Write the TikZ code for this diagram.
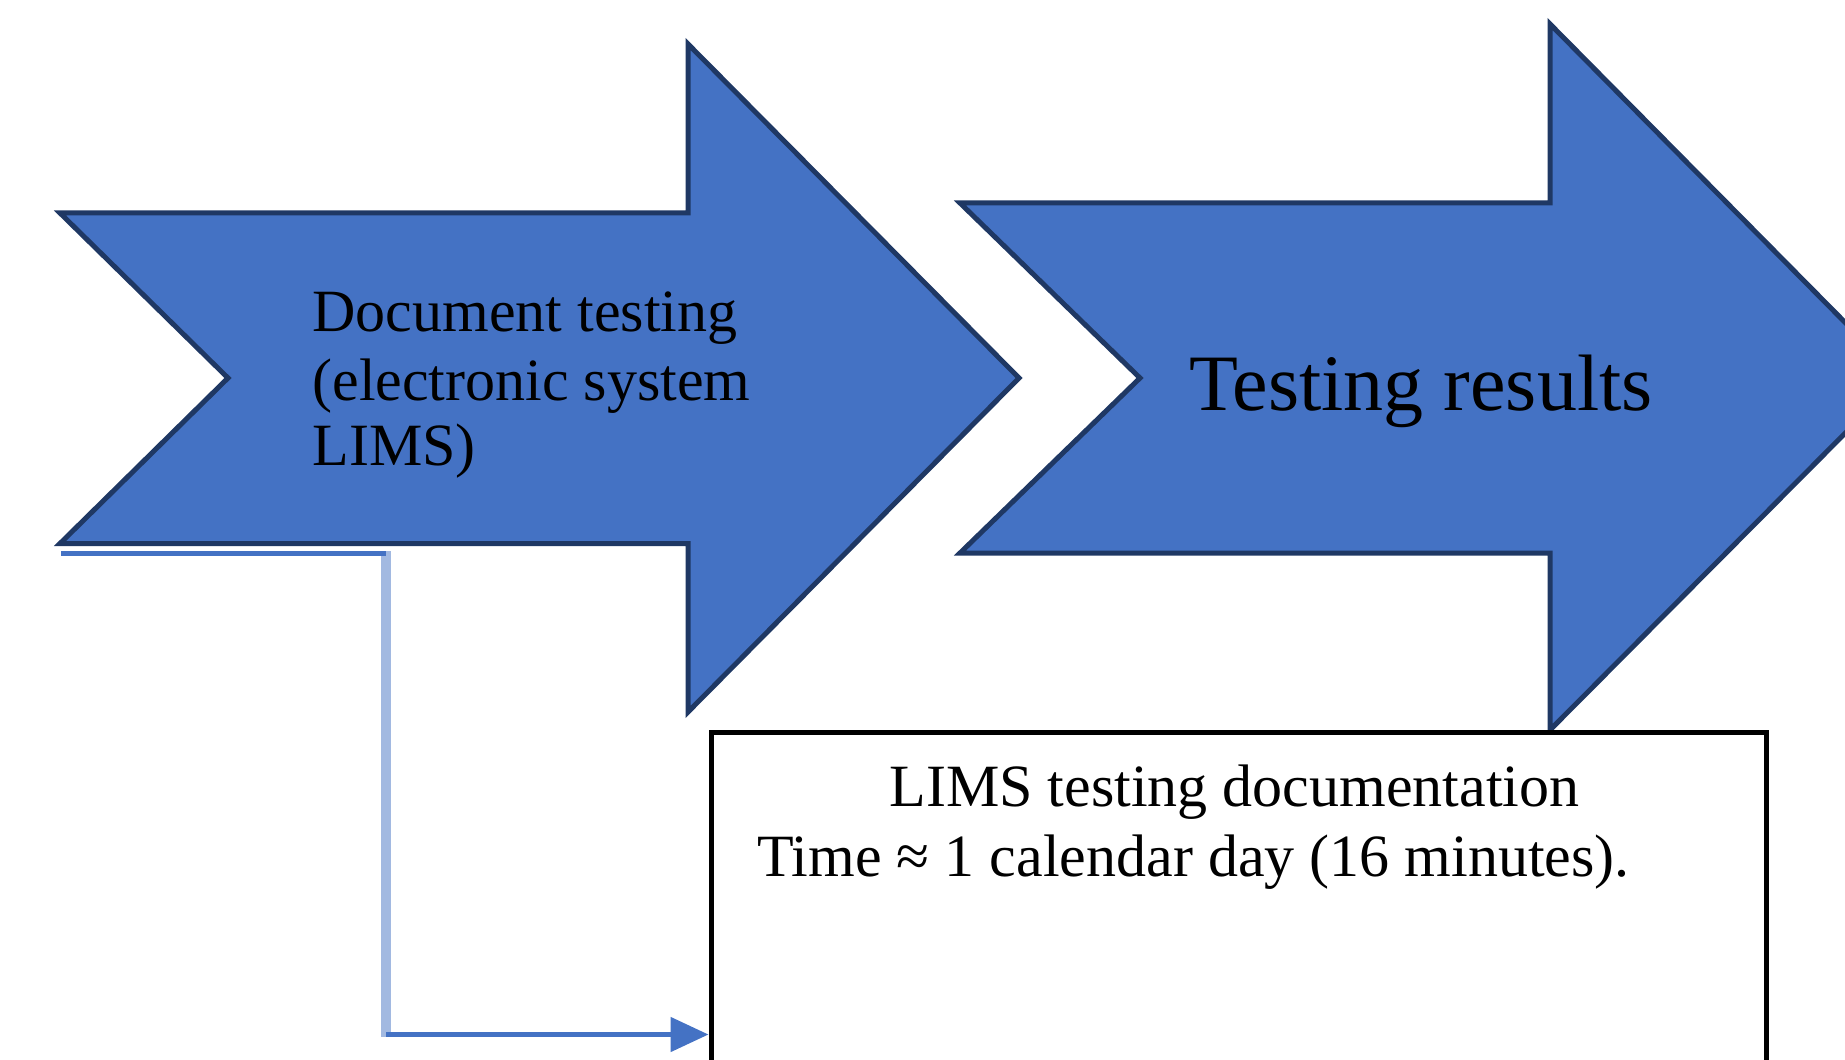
\documentclass[tikz,border=0pt]{standalone}
\usepackage{fontspec}
\setmainfont{Liberation Serif}
\usetikzlibrary{arrows.meta}
\definecolor{fillblue}{HTML}{4472C4}
\definecolor{edgeblue}{HTML}{1F3864}
\definecolor{lightblue}{HTML}{A2B9E1}
\begin{document}
\begin{tikzpicture}[x=0.5pt,y=-0.5pt,
  chevron/.style={fill=fillblue, draw=edgeblue, line width=2.5pt, line join=miter},
  lbl/.style={inner sep=0pt, text=black, font=\fontsize{30}{34}\selectfont},
  biglbl/.style={inner sep=0pt, text=black, font=\fontsize{40}{44}\selectfont},
  docbox/.style={draw=black, line width=2.5pt, fill=white, inner sep=0pt,
    minimum width=527.75pt, minimum height=200pt, anchor=north west},
  linkdark/.style={draw=fillblue, line width=2.5pt},
  linklight/.style={draw=lightblue, line width=5pt}]
\useasboundingbox (0,0) rectangle (1845,1059);
\clip (0,0) rectangle (1845,1059);

% first chevron arrow
\draw[chevron] (60,213) -- (688,213) -- (688,44) -- (1019,378) -- (688,712)
  -- (688,543.5) -- (60,543.5) -- (228,378) -- cycle;
% second chevron arrow
\draw[chevron] (960,203) -- (1550,203) -- (1550,24) -- (1900,378) -- (1550,730)
  -- (1550,553) -- (960,553) -- (1140,378) -- cycle;

% labels of the arrows
\node[lbl, anchor=base west] (d1) at (312,331) {Document testing};
\node[lbl, anchor=base west] (d2) at (312,400) {(electronic system};
\node[lbl, anchor=base west] (d3) at (312,465) {LIMS)};
\node[biglbl, anchor=base] (res) at (1421,410) {Testing results};

% documentation box
\node[docbox] (box) at (708.5,730) {};
\node[lbl, anchor=base] (b1) at (1234.5,806) {LIMS testing documentation};
\node[lbl, anchor=base west] (b2) at (757,876) {Time ≈ 1 calendar day (16 minutes).};

% connector
\coordinate (c0) at (61,553.5);
\coordinate (c1) at (386,553.5);
\coordinate (c2) at (386,1034.5);
\draw[linklight] (386,551) -- (386,1037);
\draw[linkdark] (c0) -- (c1);
\draw[linkdark, -{Triangle[length=19pt,width=17pt]}] (c2) -- (c2 -| box.west);
\end{tikzpicture}
\end{document}
